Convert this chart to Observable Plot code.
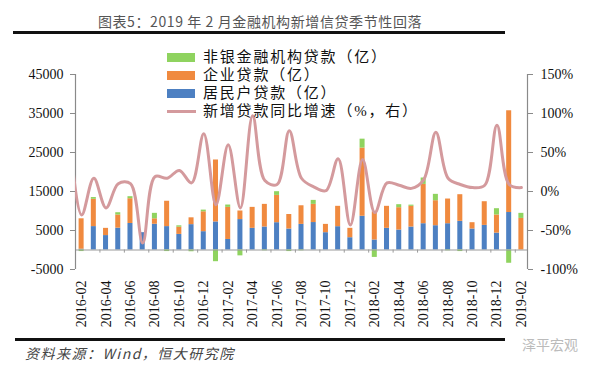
<!DOCTYPE html>
<html><head><meta charset="utf-8">
<script src="https://cdn.jsdelivr.net/npm/d3@7"></script>
<script src="https://cdn.jsdelivr.net/npm/@observablehq/plot@0.6"></script>
<style>
body{margin:0;background:#fff;}
#wrap{position:relative;width:600px;height:371px;overflow:hidden;font-family:"Noto Sans CJK SC",sans-serif;background:#fff;}
#title{position:absolute;top:12px;left:0;width:520px;height:18px;text-align:center;font-size:14px;line-height:18px;color:#555;letter-spacing:0.6px;white-space:nowrap;}
.rule{position:absolute;height:2.5px;background:#111;}
#chart{position:absolute;left:0;top:40px;}
#chart svg text{font-family:"Liberation Serif","Times New Roman",serif;}
#legend{position:absolute;left:167px;top:48px;}
.li{display:flex;align-items:center;height:18px;}
.sw{width:28px;height:9px;margin-right:8px;flex:none;}
.ln{width:29px;height:3px;margin-right:7px;flex:none;}
.lt{display:block;height:17px;font-family:"Liberation Serif","Noto Sans CJK SC",serif;font-size:15px;line-height:17px;color:#111;letter-spacing:1.8px;white-space:nowrap;}
#source{position:absolute;left:25px;top:345px;height:16px;font-size:14px;line-height:16px;font-style:italic;color:#444;letter-spacing:1.5px;white-space:nowrap;}
#wm{position:absolute;left:522px;top:336px;height:16px;font-size:14px;line-height:16px;color:#bbb;white-space:nowrap;}
</style></head>
<body>
<div id="wrap">
  <div id="title">图表5：2019 年 2 月金融机构新增信贷季节性回落</div>
  <div class="rule" style="left:13px;top:31px;width:492px;"></div>
  <div id="chart"></div>
  <div id="legend"></div>
  <div class="rule" style="left:15px;top:338px;width:490px;"></div>
  <div id="source">资料来源：Wind，恒大研究院</div>
  <div id="wm">泽平宏观</div>
</div>
<script>
const months = ["2016-02","2016-03","2016-04","2016-05","2016-06","2016-07","2016-08","2016-09","2016-10","2016-11","2016-12",
"2017-01","2017-02","2017-03","2017-04","2017-05","2017-06","2017-07","2017-08","2017-09","2017-10","2017-11","2017-12",
"2018-01","2018-02","2018-03","2018-04","2018-05","2018-06","2018-07","2018-08","2018-09","2018-10","2018-11","2018-12",
"2019-01","2019-02"];
const household = [200,6000,3700,5600,6800,4440,6600,6000,4000,6500,4700,7200,2700,7800,5560,5900,7000,5380,6570,7040,4440,5980,3150,8650,2560,5560,5120,5890,6740,6230,6740,7350,5380,6310,4330,9610,0];
const enterprise = [7800,7000,1850,3370,6350,0,1400,6500,1850,1750,5100,15880,8230,2200,5370,5800,7000,3720,4770,4660,2130,5220,2410,17480,7240,5640,5730,5310,10080,6410,6330,6830,1620,6070,4650,26090,8100];
const nonbank = [-400,450,0,590,520,0,1400,-400,350,-450,430,-3000,600,-1500,0,-200,950,-400,-200,1020,0,0,0,2290,-1900,0,770,300,1640,1630,-200,-400,0,0,1610,-3400,1300];
// 新增贷款同比增速 (%); growthPrev is 2016-01, drawn just left of the axis and clipped
const growthPrev = 71;
const growth = [-30,17,-21,10,10,-66,19,17,27,11,74,-17,60,-21,97,14,9,78,17,6,1,42,-43,41,-27,11,8,4,15,76,17,9,5,8,85,9,5];

const seriesNames = ["居民户贷款（亿）","企业贷款（亿）","非银金融机构贷款（亿）"];
const seriesColors = ["#4d80c2","#f08a3f","#8fd35f"];
const lineName = "新增贷款同比增速（%，右）";
const lineColor = "#d49a9d";
const leftTicks = [-5000,5000,15000,25000,35000,45000];

const leftMin = -5000, leftMax = 45000, pMin = -100, pMax = 150;
const pctToLeft = p => leftMin + (p - pMin) / (pMax - pMin) * (leftMax - leftMin);
const leftToPct = v => pMin + (v - leftMin) / (leftMax - leftMin) * (pMax - pMin);

const barData = [];
months.forEach((m, i) => {
  [household, enterprise, nonbank].forEach((arr, k) => {
    barData.push({i, month: m, series: seriesNames[k], value: arr[i]});
  });
});
const lineData = [{i: -1, p: growthPrev}].concat(growth.map((p, i) => ({i, p})));
const labelIdx = months.map((m, i) => i).filter(i => i % 2 === 0);
const boundaryIdx = months.map((m, i) => i + 0.5).filter((v, k) => k % 2 === 1);
const serif = "'Liberation Serif', 'Times New Roman', serif";

const chart = Plot.plot({
  width: 600, height: 300,
  marginTop: 34, marginBottom: 71, marginLeft: 75, marginRight: 73,
  x: {domain: [-0.5, months.length - 0.5], axis: null},
  y: {domain: [leftMin, leftMax], axis: null},
  color: {domain: seriesNames, range: seriesColors},
  style: {fontFamily: serif, fontSize: "14px", color: "#111", background: "#fff"},
  marks: [
    Plot.rectY(barData, {x1: d => d.i - 0.5, x2: d => d.i + 0.5, y: "value", fill: "series", insetLeft: 3.6, insetRight: 3.6}),
    Plot.ruleY([0], {stroke: "#9a9a9a", strokeWidth: 1}),
    Plot.ruleX(boundaryIdx, {y1: 0, y2: -800, stroke: "#9a9a9a"}),
    Plot.ruleX([-0.5], {stroke: "#8a8a8a", strokeWidth: 1.2}),
    Plot.ruleX([months.length - 0.5], {stroke: "#8a8a8a", strokeWidth: 1.2}),
    Plot.line(lineData, {x: "i", y: d => pctToLeft(d.p), curve: "catmull-rom", stroke: lineColor, strokeWidth: 3, clip: true}),
    Plot.axisY({anchor: "left", label: null, ticks: leftTicks, tickFormat: d => String(d), tickSize: 5, tickPadding: 7, stroke: "#8a8a8a", fill: "#111", fontFamily: serif, fontSize: 14}),
    Plot.axisY({anchor: "right", label: null, ticks: leftTicks, tickFormat: v => `${Math.round(leftToPct(v))}%`, tickSize: 5, tickPadding: 8, stroke: "#8a8a8a", fill: "#111", fontFamily: serif, fontSize: 14}),
    Plot.axisX({anchor: "bottom", label: null, ticks: labelIdx, tickFormat: i => months[i], tickRotate: -90, tickSize: 0, tickPadding: 11, fill: "#111", fontFamily: serif, fontSize: 14})
  ]
});
document.getElementById("chart").appendChild(chart);

const legend = document.getElementById("legend");
const items = [
  {name: seriesNames[2], color: seriesColors[2], type: "sw"},
  {name: seriesNames[1], color: seriesColors[1], type: "sw"},
  {name: seriesNames[0], color: seriesColors[0], type: "sw"},
  {name: lineName, color: lineColor, type: "ln"}
];
items.forEach(it => {
  const row = document.createElement("div"); row.className = "li";
  const s = document.createElement("div"); s.className = it.type; s.style.background = it.color;
  const t = document.createElement("span"); t.className = "lt"; t.textContent = it.name;
  row.appendChild(s); row.appendChild(t); legend.appendChild(row);
});
</script>
</body></html>
